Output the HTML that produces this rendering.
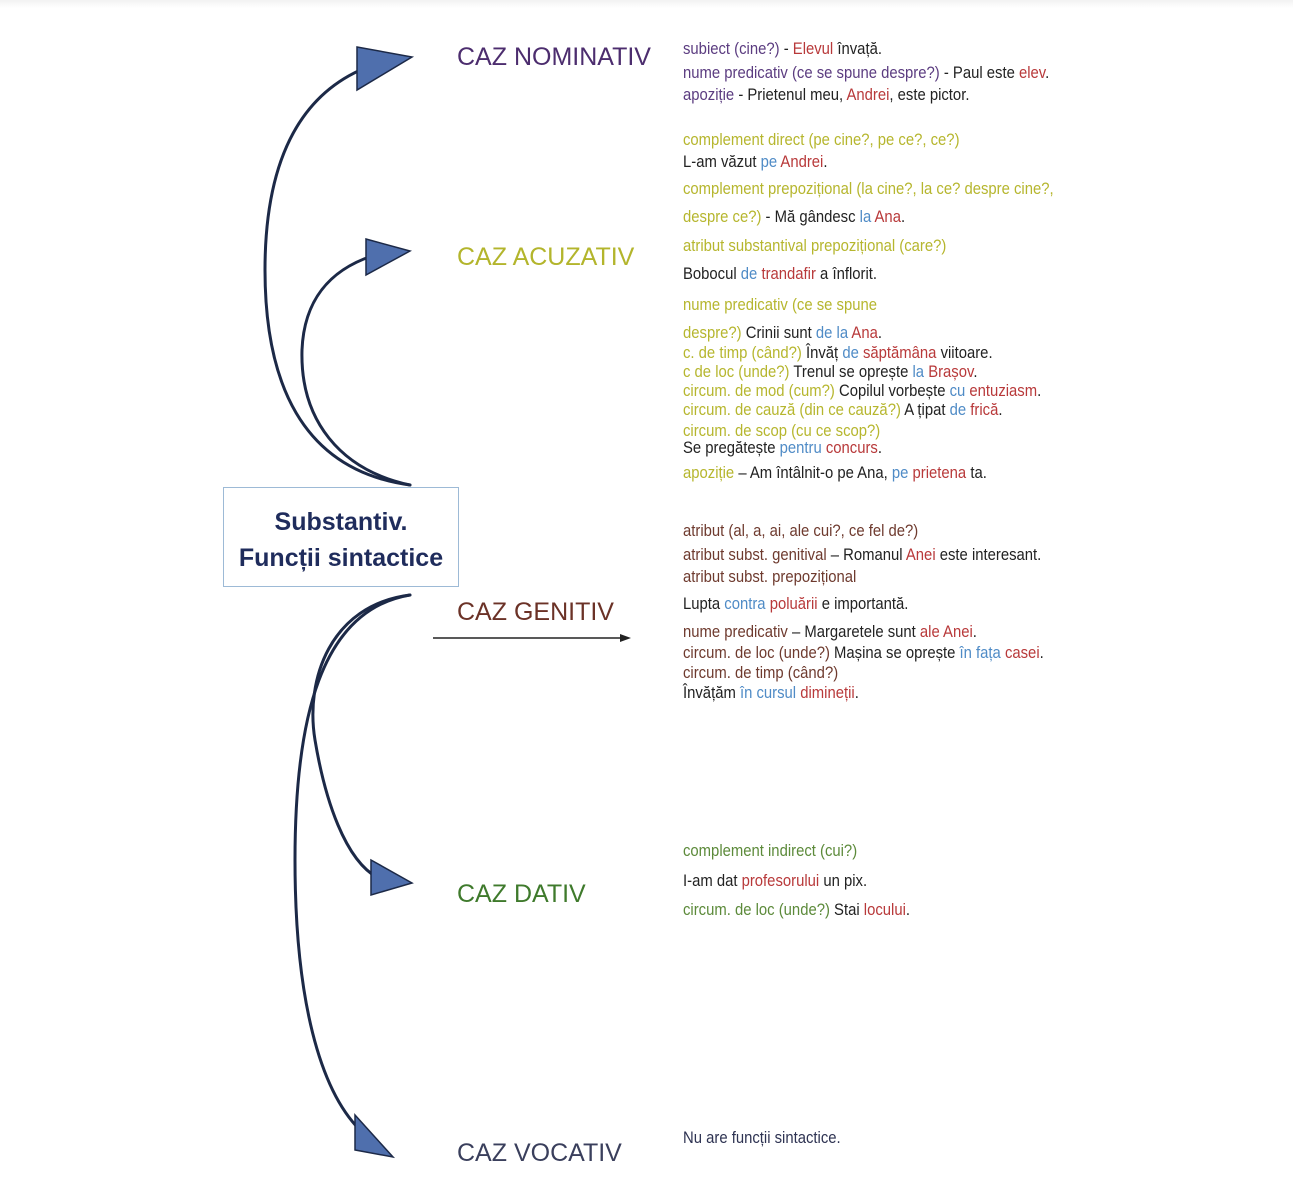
<!DOCTYPE html>
<html><head><meta charset="utf-8">
<style>
html,body{margin:0;padding:0;background:#fff;}
body{width:1293px;height:1186px;position:relative;overflow:hidden;font-family:"Liberation Sans",sans-serif;}
.top{position:absolute;left:0;top:0;width:1293px;height:8px;background:linear-gradient(#f2f2f2,#fff);}
.lab{position:absolute;font-size:25px;white-space:nowrap;line-height:30px;}
.l{position:absolute;left:683px;font-size:16.5px;line-height:20px;white-space:nowrap;transform:scaleX(0.9);transform-origin:left center;color:#222;}
.p{color:#5b3c80}
.y{color:#b6b62e}
.r{color:#b8393a}
.b{color:#4f8bc6}
.k{color:#222}
.br{color:#6e3a2e}
.g{color:#5c8a3a}
.box{position:absolute;left:223px;top:487px;width:236px;height:100px;border:1.5px solid #9dbad6;box-sizing:border-box;text-align:center;color:#1f2c5c;font-weight:bold;font-size:25px;line-height:36px;padding-top:16px;white-space:nowrap;}
</style></head><body>
<div class="top"></div>
<svg width="1293" height="1186" style="position:absolute;left:0;top:0">
<g fill="none" stroke="#1c2947" stroke-width="3" stroke-linecap="round">
<path d="M410,485 C300,470 265,380 265,270 C265,160 300,95 365,68"/>
<path d="M410,485 C340,470 300,420 302,350 C304,300 330,270 372,256"/>
<path d="M410,595 C330,605 305,680 315,740 C325,800 345,860 378,878"/>
<path d="M410,595 C320,610 295,720 295,860 C295,1000 320,1090 360,1130"/>
</g>
<g fill="#4f6fad" stroke="#1c2947" stroke-width="1.5">
<polygon points="357,47 412,57 357,90"/>
<polygon points="366,239 410,251 366,275"/>
<polygon points="371,860 412,883 371,895"/>
<polygon points="355,1115 393,1157 355,1150"/>
</g>
<line x1="433" y1="638" x2="622" y2="638" stroke="#222" stroke-width="1.5"/>
<polygon points="631,638 620,634 620,642" fill="#222"/>
</svg>
<div class="box">Substantiv.<br>Funcții sintactice</div>
<div class="lab" style="left:457px;top:42px;color:#4c2d6e">CAZ NOMINATIV</div>
<div class="lab" style="left:457px;top:242px;color:#b3b52c">CAZ ACUZATIV</div>
<div class="lab" style="left:457px;top:597px;color:#6b3227">CAZ GENITIV</div>
<div class="lab" style="left:457px;top:879px;color:#3f7a2c">CAZ DATIV</div>
<div class="lab" style="left:457px;top:1138px;color:#3a3f5c">CAZ VOCATIV</div>

<div class="l" style="top:39px"><span class="p">subiect (cine?)</span> - <span class="r">Elevul</span> învață.</div>
<div class="l" style="top:63px"><span class="p">nume predicativ (ce se spune despre?)</span> - Paul este <span class="r">elev</span>.</div>
<div class="l" style="top:85px"><span class="p">apoziție</span> - Prietenul meu, <span class="r">Andrei</span>, este pictor.</div>

<div class="l y" style="top:130px">complement direct (pe cine?, pe ce?, ce?)</div>
<div class="l" style="top:152px">L-am văzut <span class="b">pe</span> <span class="r">Andrei</span>.</div>
<div class="l y" style="top:179px">complement prepozițional (la cine?, la ce? despre cine?,</div>
<div class="l" style="top:207px"><span class="y">despre ce?)</span> - Mă gândesc <span class="b">la</span> <span class="r">Ana</span>.</div>
<div class="l y" style="top:236px">atribut substantival prepozițional (care?)</div>
<div class="l" style="top:264px">Bobocul <span class="b">de</span> <span class="r">trandafir</span> a înflorit.</div>
<div class="l y" style="top:295px">nume predicativ (ce se spune</div>
<div class="l" style="top:323px"><span class="y">despre?)</span> Crinii sunt <span class="b">de la</span> <span class="r">Ana</span>.</div>
<div class="l" style="top:343px"><span class="y">c. de timp (când?)</span> Învăț <span class="b">de</span> <span class="r">săptămâna</span> viitoare.</div>
<div class="l" style="top:362px"><span class="y">c de loc (unde?)</span> Trenul se oprește <span class="b">la</span> <span class="r">Brașov</span>.</div>
<div class="l" style="top:381px"><span class="y">circum. de mod (cum?)</span> Copilul vorbește <span class="b">cu</span> <span class="r">entuziasm</span>.</div>
<div class="l" style="top:400px"><span class="y">circum. de cauză (din ce cauză?)</span> A țipat <span class="b">de</span> <span class="r">frică</span>.</div>
<div class="l y" style="top:421px">circum. de scop (cu ce scop?)</div>
<div class="l" style="top:438px">Se pregătește <span class="b">pentru</span> <span class="r">concurs</span>.</div>
<div class="l" style="top:463px"><span class="y">apoziție</span> – Am întâlnit-o pe Ana, <span class="b">pe</span> <span class="r">prietena</span> ta.</div>

<div class="l" style="top:521px"><span class="br">atribut (al, a, ai, ale cui?, ce fel de?)</span></div>
<div class="l" style="top:545px"><span class="br">atribut subst. genitival</span> – Romanul <span class="r">Anei</span> este interesant.</div>
<div class="l br" style="top:567px">atribut subst. prepozițional</div>
<div class="l" style="top:594px">Lupta <span class="b">contra</span> <span class="r">poluării</span> e importantă.</div>
<div class="l" style="top:622px"><span class="br">nume predicativ</span> – Margaretele sunt <span class="r">ale Anei</span>.</div>
<div class="l" style="top:643px"><span class="br">circum. de loc (unde?)</span> Mașina se oprește <span class="b">în fața</span> <span class="r">casei</span>.</div>
<div class="l br" style="top:663px">circum. de timp (când?)</div>
<div class="l" style="top:683px">Învățăm <span class="b">în cursul</span> <span class="r">dimineții</span>.</div>

<div class="l g" style="top:841px">complement indirect (cui?)</div>
<div class="l" style="top:871px">I-am dat <span class="r">profesorului</span> un pix.</div>
<div class="l" style="top:900px"><span class="g">circum. de loc (unde?)</span> Stai <span class="r">locului</span>.</div>

<div class="l" style="top:1128px;color:#2e3352">Nu are funcții sintactice.</div>
</body></html>
